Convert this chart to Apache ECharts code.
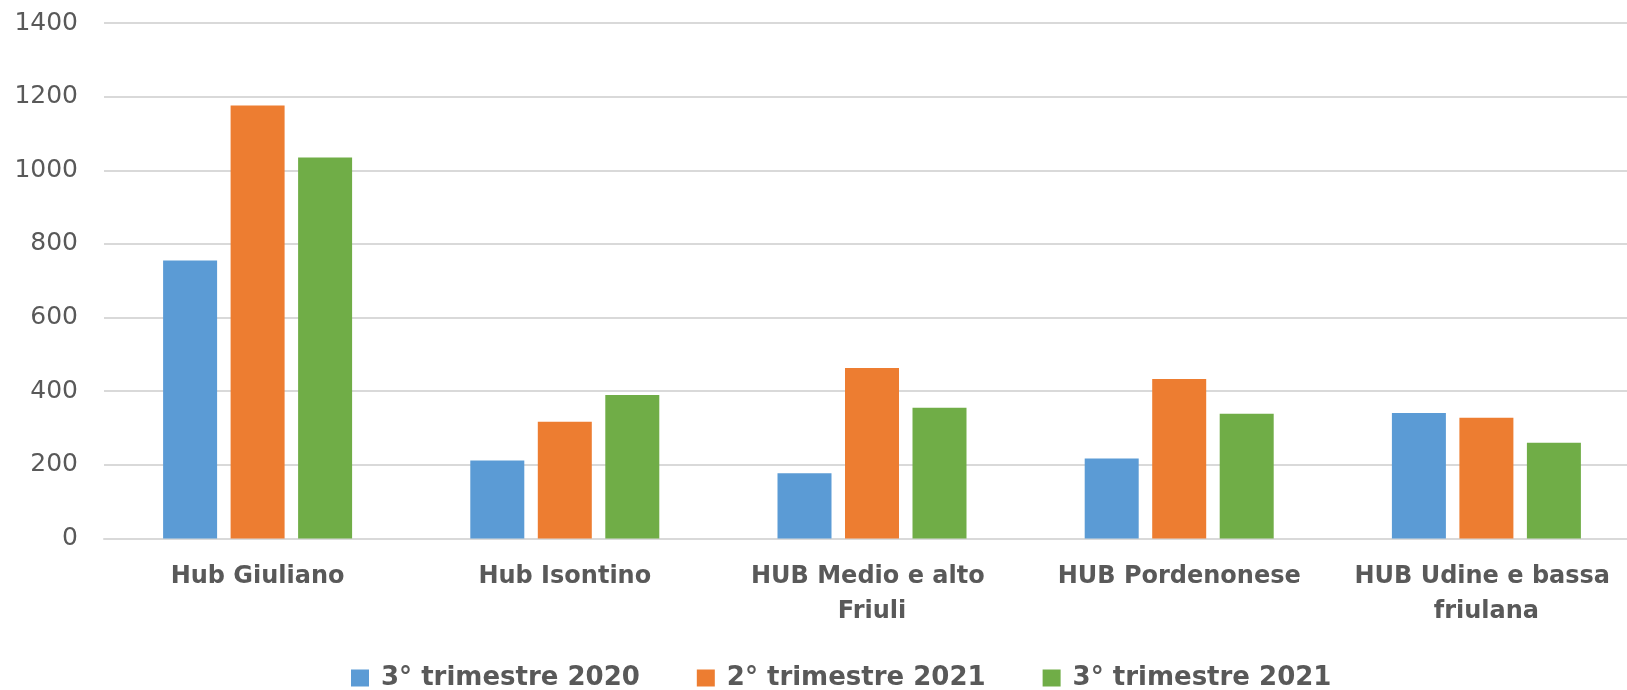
<!DOCTYPE html>
<html>
<head>
<meta charset="utf-8">
<script src="https://cdn.jsdelivr.net/npm/echarts@6/dist/echarts.min.js"></script>
<style>
html,body{margin:0;padding:0;background:#fff;}
#c{width:1627px;height:690px;}
</style>
</head>
<body>
<div id="c"></div>
<script>
const categories = ["Hub Giuliano", "Hub Isontino", "HUB Medio e alto Friuli", "HUB Pordenonese", "HUB Udine e bassa friulana"];
const seriesNames = ["3° trimestre 2020", "2° trimestre 2021", "3° trimestre 2021"];
const q3_2020 = [755, 212, 177, 217, 341];
const q2_2021 = [1176, 317, 463, 433, 328];
const q3_2021 = [1035, 390, 355, 339, 260];
const yTicks = [0, 200, 400, 600, 800, 1000, 1200, 1400];
const colors = ["#5B9BD5", "#ED7D31", "#70AD47"];

const chart = echarts.init(document.getElementById('c'), null, {renderer: 'canvas'});
const font = "DejaVu Sans";
const mk = (name, data, color) => ({
  name: name, type: 'bar', data: data, barWidth: 54, barGap: '25%',
  itemStyle: {color: color}, animation: false
});
chart.setOption({
  animation: false,
  grid: {left: 104, width: 1536, top: 23, bottom: 151.5, containLabel: false, outerBoundsMode: 'none'},
  legend: {
    left: 346, top: 660, itemWidth: 18, itemHeight: 17, itemGap: 57,
    icon: 'rect',
    textStyle: {fontFamily: font, fontWeight: 'bold', fontSize: 26, color: '#595959', padding: [0,0,0,7]},
    data: seriesNames
  },
  xAxis: {
    type: 'category', data: categories,
    axisLine: {lineStyle: {color: '#d9d9d9', width: 2}},
    axisTick: {show: false},
    axisLabel: {
      interval: 0, margin: 21, fontFamily: font, fontWeight: 'bold', fontSize: 24,
      color: '#595959', lineHeight: 35, width: 292, overflow: 'break'
    }
  },
  yAxis: {
    type: 'value', min: yTicks[0], max: yTicks[yTicks.length-1], interval: yTicks[1]-yTicks[0],
    axisLine: {show: false}, axisTick: {show: false},
    splitLine: {lineStyle: {color: '#d9d9d9', width: 2}},
    axisLabel: {margin: 26, fontFamily: font, fontSize: 25, color: '#595959', formatter: v => String(v)}
  },
  series: [mk(seriesNames[0], q3_2020, colors[0]), mk(seriesNames[1], q2_2021, colors[1]), mk(seriesNames[2], q3_2021, colors[2])]
});
</script>
</body>
</html>
